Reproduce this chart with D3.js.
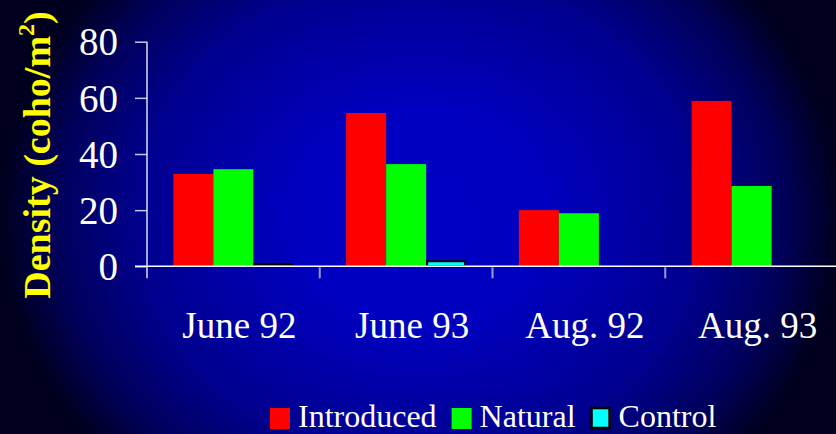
<!DOCTYPE html>
<html><head><meta charset="utf-8">
<script src="https://cdn.jsdelivr.net/npm/d3@7"></script>
<style>html,body{margin:0;padding:0;background:#000030;overflow:hidden}</style>
</head><body>
<svg id="c" width="836" height="434"></svg>
<script>
const categories = ["June 92", "June 93", "Aug. 92", "Aug. 93"];
const seriesNames = ["Introduced", "Natural", "Control"];
const introduced = [32.9, 54.6, 20.0, 58.9];
const natural = [34.6, 36.4, 18.9, 28.6];
const control = [0.8, 1.8, 0, 0];
const yTicks = [0, 20, 40, 60, 80];
const seriesColors = ["#FF0000", "#00FF00", "#00FFFF"];
const yTitle = "Density (coho/m";

const W = 836, H = 434;
const svg = d3.select("#c");
const defs = svg.append("defs");
const grad = defs.append("radialGradient").attr("id", "bg")
  .attr("gradientUnits", "userSpaceOnUse")
  .attr("cx", 420).attr("cy", 217).attr("r", 420)
  .attr("gradientTransform", "translate(420,217) scale(1,0.862) translate(-420,-217)");
[[0, "#0000C6"], [0.3, "#0000C0"], [0.67, "#00008E"], [0.86, "#00005C"], [1, "#00001E"]]
  .forEach(s => grad.append("stop").attr("offset", s[0]).attr("stop-color", s[1]));
svg.append("rect").attr("width", W).attr("height", H).attr("fill", "url(#bg)");

const x0 = d3.scaleBand().domain(categories).range([147, 838]);
const bw = x0.bandwidth();
const groupW = 120;
const x1 = d3.scaleBand().domain(seriesNames).range([(bw - groupW) / 2, (bw + groupW) / 2]);
const y = d3.scaleLinear().domain([0, 80]).range([266.3, 41.7]);

const data = [introduced, natural, control];
const rows = [];
seriesNames.forEach((s, si) => categories.forEach((c, ci) => {
  if (data[si][ci] > 0) rows.push({s, si, c, v: data[si][ci]});
}));

svg.append("g").selectAll("rect").data(rows).join("rect")
  .attr("x", d => x0(d.c) + x1(d.s) + (d.si === 2 ? 1 : 0))
  .attr("width", d => x1.bandwidth() - (d.si === 2 ? 2 : 0))
  .attr("y", d => y(d.v))
  .attr("height", d => y(0) - y(d.v))
  .attr("fill", d => seriesColors[d.si])
  .attr("stroke", d => d.si === 2 ? "#000" : "none")
  .attr("stroke-width", 2);

// Y axis
const yAxis = svg.append("g").attr("transform", "translate(147,0)")
  .call(d3.axisLeft(y).tickValues(yTicks).tickSize(12).tickPadding(17).tickSizeOuter(0));
yAxis.select(".domain").remove();
yAxis.selectAll(".tick line").attr("stroke", "#c4c4ec").attr("stroke-width", 1.5);
yAxis.selectAll(".tick text").attr("fill", "#fff")
  .attr("font-family", "'Liberation Serif', 'Times New Roman', serif")
  .attr("font-size", 39).attr("dy", "0.34em");
svg.append("line").attr("x1", 147).attr("x2", 147).attr("y1", y(80)).attr("y2", y(0) + 12)
  .attr("stroke", "#dcdcf0").attr("stroke-width", 1.5);

// X axis line and category ticks
svg.append("line").attr("x1", 135).attr("x2", W).attr("y1", y(0)).attr("y2", y(0))
  .attr("stroke", "#ffffff").attr("stroke-width", 1.5);
svg.append("g").selectAll("line").data(categories.slice(1)).join("line")
  .attr("x1", d => x0(d)).attr("x2", d => x0(d))
  .attr("y1", y(0) + 1).attr("y2", y(0) + 12)
  .attr("stroke", "#9a9ad8").attr("stroke-width", 2);

// category labels
svg.append("g")
  .selectAll("text").data(categories).join("text")
  .attr("x", d => x0(d) + bw / 2 + 6).attr("y", 337.5)
  .attr("text-anchor", "middle").attr("fill", "#fff")
  .attr("font-family", "'Liberation Serif', 'Times New Roman', serif")
  .attr("font-size", 37).text(d => d);

// Y title
const t = svg.append("text").attr("transform", "translate(50,155) rotate(-90)")
  .attr("text-anchor", "middle").attr("fill", "#FFFF00")
  .attr("font-family", "'Liberation Serif', 'Times New Roman', serif")
  .attr("font-weight", "bold").attr("font-size", 38);
t.append("tspan").text(yTitle);
t.append("tspan").attr("font-size", 24).attr("dy", -16).text("2");
t.append("tspan").attr("dy", 16).text(")");

// Legend
const lg = svg.append("g");
let lx = 270;
seriesNames.forEach((s, i) => {
  lg.append("rect").attr("x", lx + (i === 2 ? 1 : 0)).attr("y", 408)
    .attr("width", i === 2 ? 18 : 20).attr("height", i === 2 ? 20 : 21)
    .attr("fill", seriesColors[i])
    .attr("stroke", i === 2 ? "#000" : "none").attr("stroke-width", 2.5);
  const tx = lg.append("text").attr("x", lx + 28).attr("y", 427)
    .attr("fill", "#fff").attr("font-family", "'Liberation Serif', 'Times New Roman', serif")
    .attr("font-size", 32).text(s);
  lx += 28 + tx.node().getComputedTextLength() + 15;
});
</script>
</body></html>
